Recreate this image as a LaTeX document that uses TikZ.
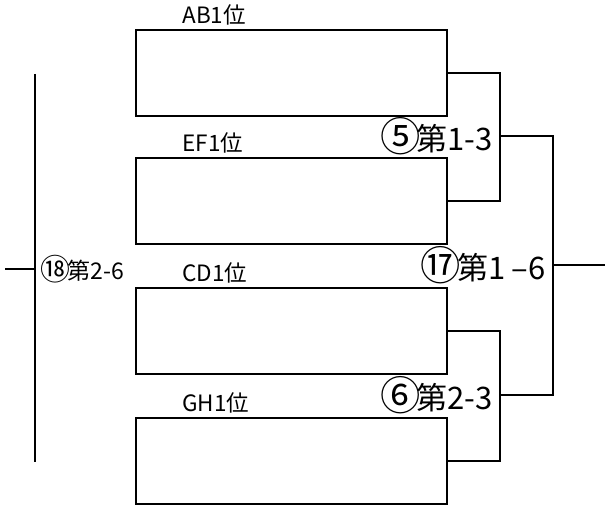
\documentclass[tikz,border=0pt]{standalone}
\usepackage{fontspec}
\usepackage{graphicx}
\setmainfont{Noto Sans CJK JP}
\usetikzlibrary{positioning}

\newcommand{\circnum}[1]{\raisebox{-0.04em}{\scalebox{1.3}{#1}}\hspace{-0.12em}}

\tikzset{
  slot/.style={draw, line width=1.6pt, minimum width=311pt, minimum height=86pt, inner sep=0pt},
  slotname/.style={font=\fontsize{22.5}{22.5}\selectfont, inner sep=0pt},
  matchname/.style={font=\fontsize{31}{31}\selectfont, inner sep=0pt},
  wire/.style={line width=1.6pt}
}

\begin{document}
\begin{tikzpicture}[x=1pt, y=-1pt]

\useasboundingbox (0,0) rectangle (605,508);

% Cases des equipes
\node[slot] (ab) at (291.5,73) {};
\node[slot] (ef) at (291.5,201) {};
\node[slot] (cd) at (291.5,331) {};
\node[slot] (gh) at (291.5,461) {};

% Noms au-dessus des cases
\node[slotname, above right=4pt and 47pt of ab.north west] (abname) {AB1位};
\node[slotname, above right=4pt and 47pt of ef.north west] (efname) {EF1位};
\node[slotname, above right=4pt and 47pt of cd.north west] (cdname) {CD1位};
\node[slotname, above right=4pt and 47pt of gh.north west] (ghname) {GH1位};

% Points de rencontre
\coordinate (m5) at (500,136);
\coordinate (m6) at (500,395);
\coordinate (m17) at (553,265);
\coordinate (out) at (605,265);

% Crochets
\draw[wire] (ab.east) -| (m5) |- (ef.east);
\draw[wire] (cd.east) -| (m6) |- (gh.east);
\draw[wire] (m5) -| (m17);
\draw[wire] (m6) -| (m17);
\draw[wire] (m17) -- (out);

\node[matchname, left=7pt of m5] (q5) {\circnum{⑤}第1-3};
\node[matchname, left=7pt of m6] (q6) {\circnum{⑥}第2-3};
\node[matchname, left=7pt of m17] (q17) {\circnum{⑰}第1\hspace{0.2em}–6};

% Ligne de gauche
\coordinate (lt) at (35,74);
\coordinate (lb) at (35,462);
\coordinate (lin) at (35,269);
\coordinate (lend) at (5,269);
\draw[wire] (lt) -- (lb);
\draw[wire] (lend) -- (lin);
\node[slotname, font=\fontsize{23}{23}\selectfont, right=5pt of lin] (q18) {\circnum{⑱}第2-6};

\end{tikzpicture}
\end{document}
